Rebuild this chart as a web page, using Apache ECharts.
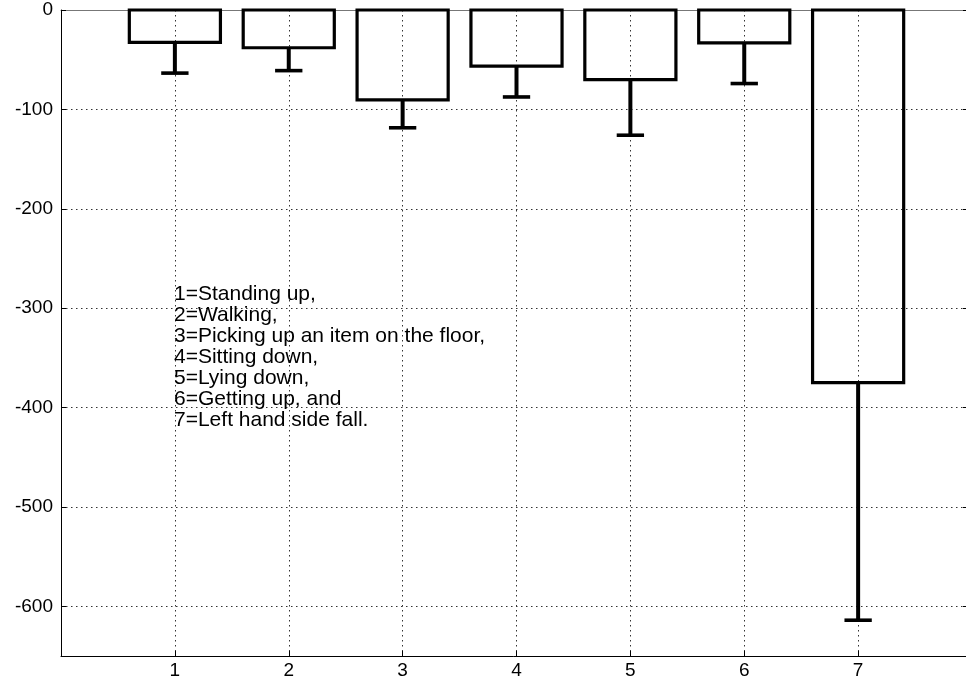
<!DOCTYPE html>
<html>
<head>
<meta charset="utf-8">
<title>Activity bar chart</title>
<script src="https://cdn.jsdelivr.net/npm/echarts@6/dist/echarts.min.js"></script>
<style>
  html, body { margin: 0; padding: 0; background: #fff; overflow: hidden; }
  #chart { width: 966px; height: 683px; }
</style>
</head>
<body>
<div id="chart"></div>
<script>
// Activity index (x positions) and measured means with lower error extents
const categories = [1, 2, 3, 4, 5, 6, 7];
const meanValues = [-32.5, -38, -90.5, -56.5, -70, -33, -375];
const errorValues = [31, 23, 28, 31, 56, 41, 239];
const xTickLabels = ['1', '2', '3', '4', '5', '6', '7'];
const legendLines = [
  '1=Standing up,',
  '2=Walking,',
  '3=Picking up an item on the floor,',
  '4=Sitting down,',
  '5=Lying down,',
  '6=Getting up, and',
  '7=Left hand side fall.'
];

const BAR_HALF = 0.4;   // bar width 0.8 of the category spacing
const CAP_HALF = 0.12;  // error bar cap half width, in x units

const barData = categories.map((c, i) => [c, meanValues[i]]);
const errData = categories.map((c, i) => [c, meanValues[i], errorValues[i]]);

const chart = echarts.init(document.getElementById('chart'), null, { renderer: 'canvas' });

const labelFont = {
  color: '#000',
  fontFamily: 'Liberation Sans, Arial, sans-serif',
  fontSize: 19
};
const gridDots = { show: true, lineStyle: { color: '#333', width: 1, type: [1.5, 3.5] } };

const xCommon = { type: 'value', min: 0, max: 8, interval: 1 };
const yCommon = { type: 'value', min: -650, max: 0, splitNumber: 7 };

chart.setOption({
  animation: false,
  backgroundColor: '#fff',
  grid: {
    // the axes box runs a little past the right edge of the page
    left: 61, top: 10, width: 911, height: 646,
    outerBoundsMode: 'none',
    containLabel: false,
    show: false
  },
  xAxis: [
    Object.assign({}, xCommon, {
      position: 'bottom',
      axisLine: { show: true, onZero: false, lineStyle: { color: '#000', width: 1 } },
      axisTick: { show: true, inside: true, length: 5, lineStyle: { color: '#000' } },
      axisLabel: Object.assign({
        margin: 5,
        showMinLabel: false, showMaxLabel: false,
        formatter: v => {
          const k = categories.indexOf(v);
          return k >= 0 ? xTickLabels[k] : '';
        }
      }, labelFont),
      splitLine: gridDots
    }),
    Object.assign({}, xCommon, {
      // top edge of the axes box
      position: 'top',
      axisLine: { show: true, onZero: false, lineStyle: { color: '#777', width: 1 } },
      axisTick: { show: false },
      axisLabel: { show: false },
      splitLine: { show: false }
    })
  ],
  yAxis: [
    Object.assign({}, yCommon, {
      position: 'left',
      axisLine: { show: true, onZero: false, lineStyle: { color: '#000', width: 1 } },
      axisTick: { show: true, inside: true, length: 5, lineStyle: { color: '#000' } },
      axisLabel: Object.assign({ margin: 8, showMinLabel: false }, labelFont),
      splitLine: gridDots
    }),
    Object.assign({}, yCommon, {
      // right edge of the axes box, with inward ticks
      position: 'right',
      axisLine: { show: true, onZero: false, lineStyle: { color: '#000', width: 1 } },
      axisTick: { show: true, inside: true, length: 9, lineStyle: { color: '#000' } },
      axisLabel: { show: false },
      splitLine: { show: false }
    })
  ],
  graphic: [{
    type: 'text',
    left: 174,
    top: 284,
    z: 50,
    style: {
      text: legendLines.join('\n'),
      fill: '#000',
      font: '21px "Liberation Sans", Arial, sans-serif',
      lineHeight: 20.9
    }
  }],
  series: [
    {
      // hollow bars hanging from zero
      type: 'custom',
      name: 'mean',
      clip: false,
      z: 5,
      data: barData,
      renderItem: (params, api) => {
        const x = api.value(0);
        const y = api.value(1);
        const p0 = api.coord([x - BAR_HALF, 0]);
        const p1 = api.coord([x + BAR_HALF, y]);
        return {
          type: 'rect',
          shape: { x: p0[0], y: p0[1], width: p1[0] - p0[0], height: p1[1] - p0[1] },
          style: { fill: 'none', stroke: '#000', lineWidth: 3.2 }
        };
      }
    },
    {
      // lower error bars with caps
      type: 'custom',
      name: 'error',
      clip: false,
      z: 6,
      data: errData,
      renderItem: (params, api) => {
        const x = api.value(0);
        const m = api.value(1);
        const e = api.value(2);
        const top = api.coord([x, m]);
        const bot = api.coord([x, m - e]);
        const cl = api.coord([x - CAP_HALF, m - e]);
        const cr = api.coord([x + CAP_HALF, m - e]);
        return {
          type: 'group',
          children: [
            { type: 'line', shape: { x1: top[0], y1: top[1], x2: bot[0], y2: bot[1] },
              style: { stroke: '#000', lineWidth: 4 } },
            { type: 'line', shape: { x1: cl[0], y1: cl[1], x2: cr[0], y2: cr[1] },
              style: { stroke: '#000', lineWidth: 3.6 } }
          ]
        };
      }
    }
  ]
});
</script>
</body>
</html>
